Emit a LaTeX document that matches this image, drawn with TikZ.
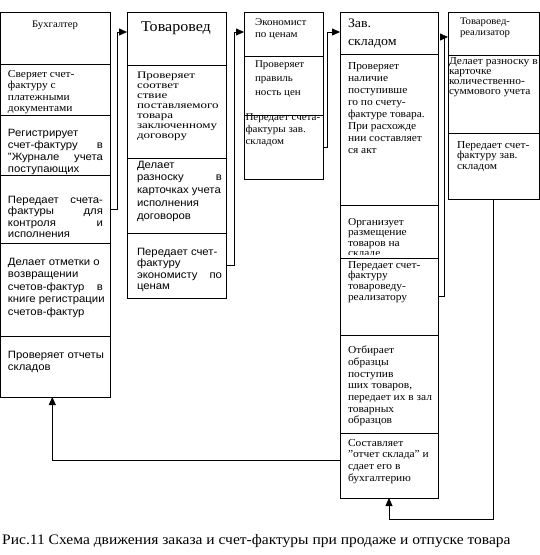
\documentclass[tikz,border=0pt]{standalone}
\usepackage{fontspec}
\setmainfont{Liberation Serif}[FakeStretch=1.07]
\setsansfont{Liberation Sans}[FakeStretch=1.07]
\newfontfamily\wideserif{Liberation Serif}[FakeStretch=1.3]
\usetikzlibrary{arrows.meta}
\newcommand\J[2]{\makebox[#1][s]{#2}}
\newcommand\mkcell[5]{\node[cell,minimum width=#4,minimum height=#5] (#1) at (#2,#3) {};}
\tikzset{
  cell/.style={draw,anchor=north west,inner sep=0pt,outer sep=0pt,line width=0.8pt},
  tx/.style={anchor=north west,inner sep=0pt,outer sep=0pt,align=left},
  arr/.style={line width=0.8pt,-{Triangle[length=8pt,width=7pt]}},
  sr/.style={font={\fontsize{10.7}{#1}\selectfont}},
  se/.style={font={\fontsize{10.3}{#1}\selectfont}},
  ss/.style={font={\sffamily\fontsize{10.6}{#1}\selectfont}}
}
\begin{document}
\begin{tikzpicture}[x=1pt,y=-1pt]
\useasboundingbox (0,0) rectangle (540,555);
% column 1
\mkcell{b0}{0.6}{12}{109.4}{52}
\mkcell{b1}{0.6}{64}{109.4}{51}
\mkcell{b2}{0.6}{115}{109.4}{60}
\mkcell{b3}{0.6}{175}{109.4}{68}
\mkcell{b4}{0.6}{243}{109.4}{93}
\mkcell{b5}{0.6}{336}{109.4}{61}
% column 2
\mkcell{t0}{127}{12}{99}{53}
\mkcell{t1}{127}{65}{99}{93}
\mkcell{t2}{127}{158}{99}{75}
\mkcell{t3}{127}{233}{99}{65}
% column 3
\mkcell{e0}{244}{12}{79}{44}
\mkcell{e1}{244}{56}{79}{59}
\mkcell{e2}{244}{115}{79}{64}
% column 4
\mkcell{z0}{340}{12}{98}{42}
\mkcell{z1}{340}{54}{98}{151}
\mkcell{z2}{340}{205}{98}{53}
\mkcell{z3}{340}{258}{98}{77}
\mkcell{z4}{340}{335}{98}{98}
\mkcell{z5}{340}{433}{98}{65}
% column 5
\mkcell{r0}{448}{12}{91}{43}
\mkcell{r1}{448}{55}{91}{78}
\mkcell{r2}{448}{133}{91}{66}

% texts column 1
\node[font={\fontsize{10}{12}\selectfont}] (b0t) at (55,25) {Бухгалтер};
\node[tx,sr=11.5] (b1t) at (8,70) {Сверяет счет-\\фактуру с\\платежными\\документами};
\node[tx,ss=12] (b2t) at (8,129) {Регистрирует\\\J{95pt}{счет-фактуру в}\\\J{95pt}{"Журнале учета}\\поступающих};
\node[tx,ss=11.5] (b3t) at (8,196) {\J{95pt}{Передает счета-}\\\J{95pt}{фактуры для}\\\J{95pt}{контроля и}\\исполнения};
\node[tx,ss=12.5] (b4t) at (8,258) {Делает отметки о\\возвращении\\\J{95pt}{счетов-фактур в}\\книге регистрации\\счетов-фактур};
\node[tx,ss=12] (b5t) at (8,351) {Проверяет отчеты\\складов};
% texts column 2
\node[font={\fontsize{15}{17}\selectfont}] (t0t) at (176,28) {Товаровед};
\node[tx,font={\wideserif\fontsize{10}{10}\selectfont}] (t1t) at (137,72) {Проверяет\\соответ\\ствие\\поставляемого\\товара\\заключенному\\договору};
\node[tx,ss=12.7] (t2t) at (137,161) {Делает\\\J{85pt}{разноску в}\\карточках учета\\исполнения\\договоров};
\node[tx,ss=11.5] (t3t) at (137,248) {Передает счет-\\фактуру\\\J{85pt}{экономисту по}\\ценам};
% texts column 3
\node[tx,se=12] (e0t) at (255,19) {Экономист\\по ценам};
\node[tx,se=14] (e1t) at (255,61) {Проверяет\\правиль\\ность цен};
\node[tx,se=12] (e2t) at (245.5,114) {Передает счета-\\фактуры зав.\\складом};
% texts column 4
\node[tx,font={\fontsize{13}{18}\selectfont}] (z0t) at (348,19) {Зав.\\складом};
\node[tx,sr=12] (z1t) at (348,62) {Проверяет\\наличие\\поступивше\\го по счету-\\фактуре товара.\\При расхожде\\нии составляет\\ся акт};
\begin{scope}
\clip (340,205) rectangle (438,254.5);
\node[tx,sr=10.5] (z2t) at (348,218) {Организует\\размещение\\товаров на\\складе};
\end{scope}
\node[tx,sr=10.7] (z3t) at (348,261) {Передает счет-\\фактуру\\товароведу-\\реализатору};
\node[tx,sr=11.7] (z4t) at (348,346) {Отбирает\\образцы\\поступив\\ших товаров,\\передает их в зал\\товарных\\образцов};
\node[tx,sr=11.7] (z5t) at (348,439) {Составляет\\"отчет склада" и\\сдает его в\\бухгалтерию};
% texts column 5
\node[tx,font={\fontsize{10}{11}\selectfont}] (r0t) at (460,18) {Товаровед-\\реализатор};
\node[tx,sr=10.3] (r1t) at (449,57) {Делает разноску в\\карточке\\количественно-\\суммового учета};
\node[tx,sr=10.5] (r2t) at (457,141) {Передает счет-\\фактуру зав.\\складом};

% connectors
\draw[arr] (b3.east) -- ++(7,0) |- ([yshift=6.5pt]t0.west);
\draw[arr] (t3.east) -- ++(8,0) |- ([yshift=2pt]e0.west);
\draw[arr] (e2.east) -- ++(4,0) |- ([yshift=1pt]z0.west);
\draw[arr] (z3.east) -- ++(6,0) |- ([yshift=-3.5pt]r0.west);
\draw[arr] (r2.south) -- ++(0,320) -| (z5.south);
\draw[arr] ([yshift=5pt]z5.west) -| ([xshift=-3pt]b5.south);

% caption
\node[anchor=west,inner sep=0pt,font={\fontsize{14.5}{16}\selectfont}] (cap) at (2,541) {Рис.11 Схема движения заказа и счет-фактуры при продаже и отпуске товара};
\end{tikzpicture}
\end{document}
